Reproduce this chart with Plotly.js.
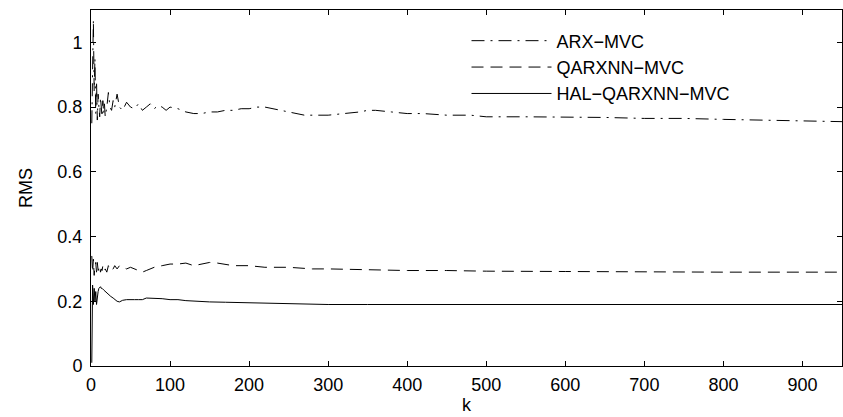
<!DOCTYPE html>
<html>
<head>
<meta charset="utf-8">
<script src="https://cdn.plot.ly/plotly-3.0.1.min.js"></script>
<style>html,body{margin:0;padding:0;background:#fff;}#chart{width:843px;height:417px;}</style>
</head>
<body>
<div id="chart"></div>
<script>
const seriesNames = ["ARX\u2212MVC", "QARXNN\u2212MVC", "HAL\u2212QARXNN\u2212MVC"];

const arxK = [1,2,3,4,5,6,7,8,9,10,11,12,13,14,15,16,17,18,20,22,24,26,28,30,33,36,40,45,50,55,60,65,70,75,80,85,90,95,100,110,120,130,140,150,160,170,180,190,200,210,220,230,240,250,260,270,280,290,300,320,340,350,360,380,400,420,450,480,500,550,600,650,700,750,800,850,900,950];
const arxRms = [0.75,0.98,1.07,0.85,0.95,0.78,0.88,0.76,0.84,0.80,0.77,0.83,0.79,0.77,0.82,0.78,0.81,0.77,0.80,0.845,0.80,0.79,0.82,0.80,0.84,0.80,0.79,0.815,0.80,0.795,0.81,0.79,0.80,0.81,0.795,0.805,0.80,0.79,0.80,0.795,0.785,0.78,0.78,0.785,0.785,0.79,0.79,0.795,0.795,0.80,0.80,0.795,0.79,0.785,0.78,0.775,0.775,0.775,0.775,0.78,0.785,0.79,0.79,0.785,0.78,0.78,0.775,0.775,0.77,0.77,0.77,0.768,0.765,0.765,0.762,0.76,0.758,0.755];

const qK = [1,2,3,4,5,6,7,8,9,10,11,12,13,14,15,16,18,20,22,25,28,30,33,36,40,45,50,55,60,65,70,75,80,90,100,110,120,130,140,150,160,170,180,200,220,250,280,300,350,400,450,500,600,700,800,900,950];
const qRms = [0.34,0.29,0.33,0.28,0.31,0.32,0.29,0.32,0.295,0.30,0.31,0.29,0.30,0.295,0.31,0.295,0.30,0.29,0.31,0.295,0.30,0.31,0.30,0.31,0.305,0.30,0.305,0.30,0.295,0.29,0.295,0.30,0.305,0.31,0.315,0.315,0.318,0.31,0.315,0.32,0.318,0.315,0.31,0.31,0.305,0.305,0.30,0.30,0.297,0.295,0.295,0.293,0.292,0.29,0.29,0.29,0.29];

const halK = [1,2,3,4,5,6,7,8,9,10,11,12,13,14,16,18,20,22,25,28,30,33,36,40,45,50,55,60,65,70,75,80,90,100,110,120,130,150,170,200,250,300,350,400,450,500,600,700,800,900,950];
const halRms = [0.01,0.25,0.19,0.24,0.20,0.23,0.19,0.22,0.23,0.24,0.245,0.245,0.24,0.24,0.235,0.23,0.225,0.22,0.215,0.21,0.205,0.20,0.198,0.203,0.205,0.204,0.205,0.205,0.205,0.21,0.21,0.208,0.208,0.205,0.205,0.202,0.20,0.198,0.197,0.195,0.192,0.19,0.19,0.19,0.19,0.19,0.19,0.19,0.19,0.19,0.19];

const xTicks = [0,100,200,300,400,500,600,700,800,900];
const yTicks = [0,0.2,0.4,0.6,0.8,1];

const font = {family: "Liberation Sans, Arial, sans-serif", size: 18, color: "#000"};

const traces = [
  {x: arxK, y: arxRms, name: seriesNames[0], mode: "lines", line: {color: "#000", width: 1, dash: "13px,6px,2px,6px"}},
  {x: qK, y: qRms, name: seriesNames[1], mode: "lines", line: {color: "#000", width: 1, dash: "12px,7px"}},
  {x: halK, y: halRms, name: seriesNames[2], mode: "lines", line: {color: "#000", width: 1, dash: "solid"}}
];

const axisCommon = {
  showline: true, linecolor: "#000", linewidth: 1, mirror: "ticks",
  ticks: "inside", ticklen: 5, tickcolor: "#000", showgrid: false, zeroline: false,
  tickfont: font
};

const layout = {
  width: 843, height: 417,
  margin: {l: 91, r: 1, t: 10, b: 51},
  paper_bgcolor: "#fff", plot_bgcolor: "#fff",
  font: font,
  showlegend: true,
  legend: {x: 0.5, y: 0.965, xanchor: "left", yanchor: "top", bgcolor: "rgba(0,0,0,0)", borderwidth: 0, itemwidth: 80, font: font},
  xaxis: Object.assign({}, axisCommon, {range: [0, 950], tickvals: xTicks, ticklabelstandoff: 2, title: {text: "k", font: font, standoff: 3}}),
  yaxis: Object.assign({}, axisCommon, {range: [0, 1.1], tickvals: yTicks, ticklabelstandoff: 4, title: {text: "RMS", font: font, standoff: 20}})
};

Plotly.newPlot("chart", traces, layout, {displayModeBar: false, staticPlot: true});
</script>
</body>
</html>
